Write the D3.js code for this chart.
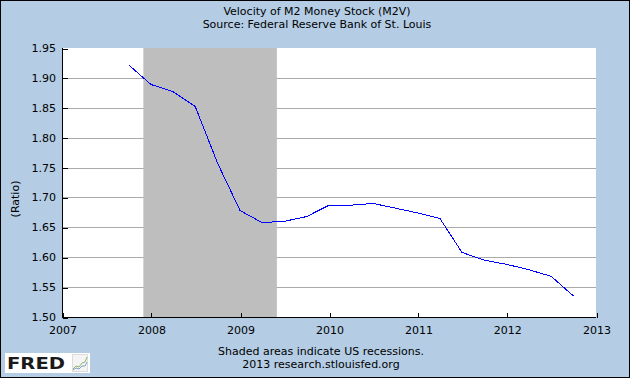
<!DOCTYPE html>
<html><head><meta charset="utf-8">
<script src="https://cdn.jsdelivr.net/npm/d3@7"></script>
<style>html,body{margin:0;padding:0;background:#fff}svg{display:block}text{font-family:"DejaVu Sans",Verdana,sans-serif}</style>
</head><body>
<script>
const dates = ["2007-10-01","2008-01-01","2008-04-01","2008-07-01","2008-10-01","2009-01-01","2009-04-01","2009-07-01","2009-10-01","2010-01-01","2010-04-01","2010-07-01","2010-10-01","2011-01-01","2011-04-01","2011-07-01","2011-10-01","2012-01-01","2012-04-01","2012-07-01","2012-10-01"];
const values = [1.922,1.889,1.877,1.852,1.757,1.678,1.658,1.660,1.668,1.687,1.687,1.690,1.682,1.674,1.665,1.608,1.595,1.588,1.579,1.568,1.535];
const recessions = [["2007-12-01","2009-06-01"]];
const yTicks = [1.50,1.55,1.60,1.65,1.70,1.75,1.80,1.85,1.90,1.95];
const xTickYears = [2007,2008,2009,2010,2011,2012,2013];
const title = "Velocity of M2 Money Stock (M2V)";
const subtitle = "Source: Federal Reserve Bank of St. Louis";
const yLabel = "(Ratio)";
const footer1 = "Shaded areas indicate US recessions.";
const footer2 = "2013 research.stlouisfed.org";

const W = 630, H = 378;
const L = 62, R = 596, T = 48, B = 317;
const parse = d3.utcParse("%Y-%m-%d");
const svg = d3.select("body").append("svg").attr("width", W).attr("height", H);
svg.append("rect").attr("x",0.5).attr("y",0.5).attr("width",W-1).attr("height",H-1).attr("fill","#b4cde5").attr("stroke","#000");

const x = d3.scaleUtc().domain([Date.UTC(2007,0,1), Date.UTC(2013,0,1)]).range([L, R]);
const y = d3.scaleLinear().domain([1.5, 1.95]).range([B, T]);

svg.append("rect").attr("x",L).attr("y",T).attr("width",R-L).attr("height",B-T).attr("fill","#fff");
// gridlines
svg.append("g").selectAll("line").data(yTicks.filter(v=>v>1.5 && v<1.95)).join("line")
  .attr("x1",L).attr("x2",R).attr("y1",d=>Math.round(y(d))+0.5).attr("y2",d=>Math.round(y(d))+0.5)
  .attr("stroke","#aaaaaa").attr("stroke-width",1);
// recessions
svg.append("g").selectAll("rect").data(recessions).join("rect")
  .attr("x",d=>x(parse(d[0]))).attr("width",d=>x(parse(d[1]))-x(parse(d[0])))
  .attr("y",T).attr("height",B-T).attr("fill","#bebebe");

// axes
const yAxis = d3.axisRight(y).tickValues(yTicks).tickSize(5).tickFormat("");
const gy = svg.append("g").attr("transform",`translate(${L+0.5},0.5)`).call(yAxis);
gy.select(".domain").remove();
gy.selectAll("line").attr("stroke","#000").attr("shape-rendering","crispEdges");
svg.append("g").selectAll("text").data(yTicks).join("text")
  .attr("x",L-6).attr("y",d=>y(d)+4).attr("text-anchor","end").attr("font-size",11).attr("fill","#000")
  .text(d=>d.toFixed(2));

const xAxis = d3.axisTop(x).tickValues(xTickYears.map(yy=>new Date(Date.UTC(yy,0,1)))).tickSize(5).tickFormat("");
const gx = svg.append("g").attr("transform",`translate(0.5,${B+0.5})`).call(xAxis);
gx.select(".domain").remove();
gx.selectAll("line").attr("stroke","#000").attr("shape-rendering","crispEdges");
svg.append("g").selectAll("text").data(xTickYears).join("text")
  .attr("x",d=>x(new Date(Date.UTC(d,0,1)))+1).attr("y",B+17).attr("text-anchor","middle").attr("font-size",11).attr("fill","#000")
  .text(d=>d);

svg.append("line").attr("x1",L+0.5).attr("x2",L+0.5).attr("y1",T).attr("y2",B+1).attr("stroke","#000");
svg.append("line").attr("x1",L).attr("x2",R).attr("y1",B+0.5).attr("y2",B+0.5).attr("stroke","#000");

// line
const line = d3.line().x((d,i)=>x(parse(dates[i]))).y(d=>y(d));
svg.append("path").datum(values).attr("d",line).attr("fill","none").attr("stroke","#0000ff").attr("stroke-width",1).attr("shape-rendering","crispEdges");

// titles
svg.append("text").attr("x",317).attr("y",15).attr("text-anchor","middle").attr("font-size",11).text(title);
svg.append("text").attr("x",317).attr("y",28).attr("text-anchor","middle").attr("font-size",11).text(subtitle);
svg.append("text").attr("transform","translate(19,199) rotate(-90)").attr("text-anchor","middle").attr("font-size",11).text(yLabel);
svg.append("text").attr("x",321).attr("y",355).attr("text-anchor","middle").attr("font-size",11).text(footer1);
svg.append("text").attr("x",321).attr("y",368).attr("text-anchor","middle").attr("font-size",11).text(footer2);

// FRED logo
const lg = svg.append("g");
lg.append("rect").attr("x",5).attr("y",353).attr("width",85).attr("height",20).attr("fill","#fff");
lg.append("text").attr("x",7).attr("y",369).attr("font-size",15).attr("font-weight","bold").attr("fill","#1a1a1a")
  .attr("textLength",58).attr("lengthAdjust","spacingAndGlyphs").text("FRED");
lg.append("rect").attr("x",72.5).attr("y",354.5).attr("width",15).attr("height",17).attr("fill","#f4f4f4").attr("stroke","#ddd");
lg.append("polyline").attr("points","73,369 76,366 79,367 82,363 85,362 87,357").attr("fill","none").attr("stroke","#8fb86a").attr("stroke-width",1);
lg.append("polyline").attr("points","73,370 76,368 79,369 82,366 85,366 87,362").attr("fill","none").attr("stroke","#7fa0c8").attr("stroke-width",1);
</script>
</body></html>
